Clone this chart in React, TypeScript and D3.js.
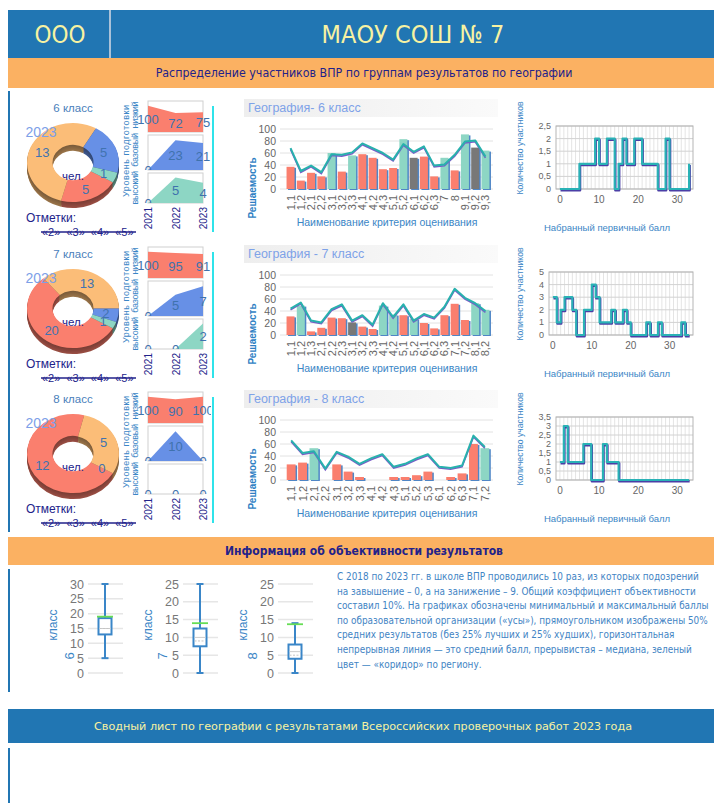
import React from 'react';
import * as d3 from 'd3';

// ---- data ----
const schoolName = 'МАОУ СОШ № 7';
const districtName = 'ООО';
const sectionTitle1 = 'Распределение участников ВПР по группам результатов по географии';
const sectionTitle2 = 'Информация об объективности результатов';
const footerTitle = 'Сводный лист по географии с результатами Всероссийских проверочных работ 2023 года';

const gradeTitles = ['6 класс', '7 класс', '8 класс'];
const gradeNums = ['6', '7', '8'];
const chartTitles = ['География- 6 класс', 'География - 7 класс', 'География - 8 класс'];
const reportYear = '2023';
const markLabels = ['«2»', '«3»', '«4»', '«5»'];
const markCounts = [
  [5, 13, 5, 1],
  [20, 13, 2, 1],
  [12, 5, 0, 0],
];

const years = ['2021', '2022', '2023'];
const levelNames = ['высокий', 'базовый', 'низкий'];
const lowLevel = [[100, 72, 75], [100, 95, 91], [100, 90, 100]];
const baseLevel = [[0, 23, 21], [0, 5, 7], [0, 10, 0]];
const highLevel = [[0, 5, 4], [0, 0, 2], [0, 0, 0]];

const criteria6 = ['1,1', '1,2', '2,1', '2,2', '3,1', '3,2', '3,3', '4,1', '4,2', '4,3', '5,1', '5,2', '6,1', '6,2', '6,3', '7', '8', '9,1', '9,2', '9,3'];
const school6 = [37, 14, 27, 21, 60, 29, 56, 58, 52, 33, 35, 83, 52, 54, 21, 52, 31, 91, 69, 64];
const region6 = [68, 30, 39, 28, 58, 57, 61, 76, 68, 60, 49, 75, 62, 71, 39, 41, 57, 79, 81, 54];
const verdict6 = ['lo', 'lo', 'lo', 'lo', 'hi', 'lo', 'hi', 'lo', 'lo', 'lo', 'lo', 'hi', 'eq', 'lo', 'lo', 'hi', 'lo', 'hi', 'eq', 'hi'];

const criteria7 = ['1,1', '1,2', '1,3', '2,1', '2,2', '2,3', '3,1', '3,2', '3,3', '4,1', '4,2', '5,1', '5,2', '6,1', '6,2', '6,3', '7,1', '7,2', '8,1', '8,2'];
const school7 = [31, 49, 6, 12, 29, 28, 21, 14, 10, 49, 34, 33, 27, 20, 11, 33, 52, 25, 53, 42];
const region7 = [44, 54, 24, 21, 43, 51, 24, 33, 17, 53, 30, 51, 24, 35, 29, 47, 77, 62, 53, 40];
const verdict7 = ['lo', 'hi', 'lo', 'lo', 'lo', 'lo', 'eq', 'lo', 'lo', 'hi', 'hi', 'lo', 'hi', 'lo', 'lo', 'lo', 'lo', 'lo', 'hi', 'hi'];

const criteria8 = ['1,1', '1,2', '2,1', '2,2', '3,1', '3,2', '3,3', '4,1', '4,2', '4,3', '5,1', '5,2', '5,3', '6,1', '6,2', '6,3', '7,1', '7,2'];
const school8 = [26, 29, 53, 0, 26, 14, 5, 0, 0, 5, 5, 8, 14, 0, 5, 11, 60, 53];
const region8 = [66, 45, 48, 19, 47, 39, 27, 36, 43, 22, 27, 36, 43, 22, 20, 24, 74, 55];
const verdict8 = ['lo', 'lo', 'hi', 'lo', 'lo', 'lo', 'lo', 'lo', 'lo', 'lo', 'lo', 'lo', 'lo', 'lo', 'lo', 'lo', 'lo', 'hi'];

// participants per primary score (index = score)
const scoreCounts6 = [0, 0, 0, 0, 0, 1, 1, 1, 1, 2, 1, 1, 2, 2, 0, 1, 2, 1, 1, 2, 2, 1, 1, 1, 1, 0, 0, 2, 0, 0, 0, 0, 0, 1];
const scoreCounts7 = [3, 1, 2, 3, 3, 2, 0, 0, 2, 2, 4, 3, 1, 1, 1, 2, 1, 1, 2, 1, 0, 0, 0, 0, 1, 0, 0, 1, 0, 0, 0, 0, 0, 1, 0, 0];
const scoreCounts8 = [1, 3, 1, 1, 1, 1, 2, 2, 0, 0, 0, 2, 1, 1, 1, 0, 0, 0, 0, 0, 0, 0, 0, 0, 0, 0, 0, 0, 0, 0, 0, 0, 0, 0];
const scoreYMax = [2.5, 5, 3.5];
const scoreYStep = [0.5, 1, 0.5];
const scoreXTicks = [0, 10, 20, 30];

const boxMin = [5, 0, 0];
const boxQ1 = [13, 7.5, 4];
const boxMedian = [15, 9, 5];
const boxMean = [15, 10, 6];
const boxQ3 = [18.5, 12.5, 8];
const boxMax = [30, 25, 14];
const regionMark = [19, 14, 13.7];
const boxAxisMax = [30, 25, 25];

const noteLines = [
  'С 2018 по 2023 гг. в школе ВПР проводились 10 раз, из которых подозрений',
  'на завышение – 0, а на занижение – 9. Общий коэффициент объективности',
  'составил 10%. На графиках обозначены минимальный и максимальный баллы',
  'по образовательной организации («усы»), прямоугольником изображены 50%',
  'средних результатов (без 25% лучших и 25% худших), горизонтальная',
  'непрерывная линия — это средний балл, прерывистая – медиана, зеленый',
  'цвет — «коридор» по региону.',
];

// ---- styles ----
const BLUE = '#2176b3';
const ORANGE = '#fbb162';
const YELLOW = '#f7f2a2';
const NAVY = '#22228a';
const AXIS_BLUE = '#3b86c6';
const SALMON = '#fa7f6e';
const PEACH = '#fbbd78';
const CORN = '#6790e6';
const MINT = '#8dd6c4';
const GREY_BAR = '#787878';
const sliceColors = [SALMON, PEACH, CORN, MINT];
const verdictColor: Record<string, string> = { lo: SALMON, hi: MINT, eq: GREY_BAR };
const SANS = 'Liberation Sans, Arial, sans-serif';
const COND = "'DejaVu Sans Condensed', 'DejaVu Sans', sans-serif";
const rowOff = [0, 146, 291];

const rows = [
  { cats: criteria6, school: school6, region: region6, verdict: verdict6, counts: scoreCounts6 },
  { cats: criteria7, school: school7, region: region7, verdict: verdict7, counts: scoreCounts7 },
  { cats: criteria8, school: school8, region: region8, verdict: verdict8, counts: scoreCounts8 },
];

const fmt = (v: number) => String(v).replace('.', ',');

function Donut({ off, counts }: { off: number; counts: number[] }) {
  const cx = 73, cy = 162.5 + off, sy = 0.86, depth = 6;
  const start = (2 * Math.PI) / 3;
  const pie = d3.pie<number>().sort(null).value((d) => d).startAngle(start).endAngle(start + 2 * Math.PI);
  const slices = pie(counts);
  const arc = d3.arc<d3.PieArcDatum<number>>().innerRadius(20.5).outerRadius(46);
  const seen = new Set<string>();
  const labels = slices.map((s, i) => {
    const [lx, ly] = arc.centroid(s);
    const key = `${Math.round(lx)}_${Math.round(ly)}`;
    if (seen.has(key)) return null;
    seen.add(key);
    return (
      <text key={i} x={cx + lx} y={cy + ly * sy + 5} textAnchor="middle" fontSize={13} fill="#4173b0" fontFamily={SANS}>
        {s.data}
      </text>
    );
  });
  return (
    <g>
      {d3.range(depth, 0, -1).map((k) => (
        <g key={k} transform={`translate(${cx},${cy + k}) scale(1,${sy})`}>
          {slices.map((s, i) => (
            <path key={i} d={arc(s) || ''} fill={d3.color(sliceColors[i])!.darker(2.1 - k * 0.12).toString()} />
          ))}
        </g>
      ))}
      <g transform={`translate(${cx},${cy}) scale(1,${sy})`}>
        {slices.map((s, i) => (
          <path key={i} d={arc(s) || ''} fill={sliceColors[i]} />
        ))}
      </g>
      {labels}
      <text x={cx} y={cy + 17.5} textAnchor="middle" fontSize={11.5} fill={NAVY} fontFamily={SANS}>чел.</text>
    </g>
  );
}

function LevelPanels({ off, row }: { off: number; row: number }) {
  const x = d3.scalePoint<string>().domain(years).range([148, 203]);
  const panels = [
    { top: 101, bottom: 132, vals: lowLevel[row], color: SALMON },
    { top: 135, bottom: 170, vals: baseLevel[row], color: CORN },
    { top: 173, bottom: 203, vals: highLevel[row], color: MINT },
  ];
  return (
    <g fontFamily={SANS}>
      {panels.map((p, pi) => {
        const top = p.top + off, bottom = p.bottom + off;
        const y = d3.scaleLinear().domain([0, (d3.max(p.vals) || 0) * 1.18 || 1]).range([bottom, top]);
        const area = d3.area<number>().x((_, i) => x(years[i])!).y0(bottom).y1((d) => y(d));
        const id = `clip-${row}-${pi}`;
        return (
          <g key={pi}>
            <clipPath id={id}>
              <rect x={136} y={top} width={75} height={bottom - top} />
            </clipPath>
            <rect x={148} y={top} width={55} height={bottom - top} fill="#fff" stroke="#cfcfcf" />
            <path d={area(p.vals) || ''} fill={p.color} />
            <g clipPath={`url(#${id})`}>
              {p.vals.map((v, i) => (
                <text key={i} x={x(years[i])!} y={(v > 0 ? (y(v) + bottom) / 2 : bottom) + 5} textAnchor="middle" fontSize={13} fill="#3f72ad">
                  {v}
                </text>
              ))}
            </g>
          </g>
        );
      })}
      <text transform={`translate(129,${151 + off}) rotate(-90)`} textAnchor="middle" fontSize={9} textLength={92} lengthAdjust="spacing" fill={AXIS_BLUE}>
        Уровень подготовки
      </text>
      <text transform={`translate(137.5,${153 + off}) rotate(-90)`} textAnchor="middle" fontSize={9} textLength={103} lengthAdjust="spacing" fill={AXIS_BLUE} style={{ whiteSpace: 'pre' }}>
        {levelNames.join('  ')}
      </text>
      {years.map((yr) => (
        <text key={yr} transform={`translate(${x(yr)! + 4},${207 + off}) rotate(-90)`} textAnchor="end" fontSize={10} fill={NAVY}>
          {yr}
        </text>
      ))}
      <line x1={213} x2={213} y1={106 + off} y2={232 + off} stroke="#2fe3ea" strokeWidth={2} />
    </g>
  );
}

function CriteriaChart({ off, row }: { off: number; row: number }) {
  const r = rows[row];
  const x = d3.scaleBand<string>().domain(r.cats).range([285, 491]).paddingInner(0.22).paddingOuter(0.15);
  const y = d3.scaleLinear().domain([0, 100]).range([189 + off, 129 + off]);
  const cxOf = (i: number) => x(r.cats[i])! + x.bandwidth() / 2;
  const line = d3.line<number>().x((_, i) => cxOf(i)).y((d) => y(d));
  const regionPath = line(r.region) || '';
  return (
    <g fontFamily={SANS}>
      <defs>
        <linearGradient id={`tband-${row}`} x1="0" x2="1">
          <stop offset="0" stopColor="#eeeeee" />
          <stop offset="1" stopColor="#fafafa" />
        </linearGradient>
      </defs>
      <rect x={244} y={99 + off} width={254} height={18} fill={`url(#tband-${row})`} />
      <text x={248} y={112 + off} fontSize={12.5} fill="#7ea2e8">{chartTitles[row]}</text>
      {y.ticks(5).map((t) => (
        <g key={t}>
          <line x1={280} x2={493} y1={y(t)} y2={y(t)} stroke="#e2e2e2" />
          <text x={276} y={y(t) + 4} textAnchor="end" fontSize={10.5} fill="#666">{t}</text>
        </g>
      ))}
      {r.school.map((v, i) => (
        <g key={i}>
          <rect x={x(r.cats[i])! + 1.5} y={y(v) + 1} width={x.bandwidth()} height={y(0) - y(v)} fill="#4f86c6" />
          <rect x={x(r.cats[i])!} y={y(v)} width={x.bandwidth()} height={y(0) - y(v)} fill={verdictColor[r.verdict[i]]} />
        </g>
      ))}
      <path d={regionPath} transform="translate(0,1.3)" fill="none" stroke="#7a5cc8" strokeWidth={1.6} />
      <path d={regionPath} fill="none" stroke="#28b1ad" strokeWidth={2} strokeLinejoin="round" />
      {r.cats.map((c, i) => (
        <text key={c} transform={`translate(${cxOf(i) + 4},${195 + off}) rotate(-90)`} textAnchor="end" fontSize={11} fill="#666">
          {c}
        </text>
      ))}
      <text x={387} y={226 + off} textAnchor="middle" fontSize={10.5} fill={AXIS_BLUE}>Наименование критерия оценивания</text>
      <text transform={`translate(256,${188 + off}) rotate(-90)`} textAnchor="middle" fontSize={10} fill="#2f7fc4" fontWeight="bold">
        Решаемость
      </text>
    </g>
  );
}

function ScoreChart({ off, row }: { off: number; row: number }) {
  const counts = rows[row].counts;
  const yMax = scoreYMax[row];
  const left = Number.isInteger(yMax) ? 549 : 556;
  const top = 126 + off, bottom = 189 + off;
  const x = d3.scaleLinear().domain([-1, counts.length]).range([left, 693]);
  const y = d3.scaleLinear().domain([0, yMax]).range([bottom, top]);
  const yTicks = d3.range(0, yMax + 1e-9, scoreYStep[row]);
  const vGrid = d3.range(0, counts.length);
  const line = d3.line<number>().x((_, i) => x(i)).y((d) => y(d)).curve(d3.curveStepAfter);
  const path = line(counts) || '';
  return (
    <g fontFamily={SANS}>
      {vGrid.map((g) => (
        <line key={g} x1={x(g)} x2={x(g)} y1={top} y2={bottom} stroke="#e4e4e4" />
      ))}
      {yTicks.map((t) => (
        <g key={t}>
          <line x1={left} x2={693} y1={y(t)} y2={y(t)} stroke="#d2d2d2" />
          <text x={left - 5} y={y(t) + 3} textAnchor="end" fontSize={9} fill="#666">{fmt(t)}</text>
        </g>
      ))}
      <rect x={left} y={top} width={693 - left} height={bottom - top} fill="none" stroke="#b5b5b5" />
      {scoreXTicks.map((t) => (
        <text key={t} x={x(t)} y={bottom + 14} textAnchor="middle" fontSize={10} fill="#666">{t}</text>
      ))}
      <path d={path} transform="translate(0.6,1.2)" fill="none" stroke="#4b3fa6" strokeWidth={2.4} strokeLinejoin="round" />
      <path d={path} fill="none" stroke="#2ab2b6" strokeWidth={2.2} strokeLinejoin="round" />
      <text transform={`translate(523,${148 + off}) rotate(-90)`} textAnchor="middle" fontSize={8.6} fill={AXIS_BLUE}>
        Количество участников
      </text>
      <text x={607} y={231 + off} textAnchor="middle" fontSize={9.5} fill={AXIS_BLUE}>Набранный первичный балл</text>
    </g>
  );
}

function BoxPlot({ i }: { i: number }) {
  const cx = [105, 200, 295][i];
  const numOffset = [-31, -33, -38][i];
  const y = d3.scaleLinear().domain([0, boxAxisMax[i]]).range([673, 584]);
  const ticks = d3.range(0, boxAxisMax[i] + 1, 5);
  const bw = 13;
  return (
    <g fontFamily={SANS}>
      {ticks.map((t) => (
        <g key={t}>
          <line x1={cx - 17} x2={cx + 18} y1={y(t)} y2={y(t)} stroke="#e6e6e6" strokeWidth={1.5} />
          <text x={cx - 21} y={y(t) + 4.5} textAnchor="end" fontSize={12.5} fill="#777">{t}</text>
        </g>
      ))}
      <line x1={cx} x2={cx} y1={y(boxMin[i])} y2={y(boxMax[i])} stroke="#3a86c8" strokeWidth={2} />
      <line x1={cx - 3.5} x2={cx + 3.5} y1={y(boxMin[i])} y2={y(boxMin[i])} stroke="#3a86c8" strokeWidth={2} />
      <line x1={cx - 3.5} x2={cx + 3.5} y1={y(boxMax[i])} y2={y(boxMax[i])} stroke="#3a86c8" strokeWidth={2} />
      <rect x={cx - bw / 2} y={y(boxQ3[i])} width={bw} height={y(boxQ1[i]) - y(boxQ3[i])} fill="#fff" stroke="#3a86c8" strokeWidth={2} />
      <line x1={cx - bw / 2 + 1} x2={cx + bw / 2 - 1} y1={y(boxMean[i])} y2={y(boxMean[i])} stroke="#cccccc" strokeWidth={1} />
      <line x1={cx - bw / 2 + 1} x2={cx + bw / 2 - 1} y1={y(boxMedian[i])} y2={y(boxMedian[i])} stroke="#c4c4c4" strokeWidth={1} strokeDasharray="2,1.5" />
      <line x1={cx - 8} x2={cx + 8} y1={y(regionMark[i])} y2={y(regionMark[i])} stroke="#66dd55" strokeWidth={1.8} />
      <text transform={`translate(${cx - 48},${625}) rotate(-90)`} textAnchor="middle" fontSize={12} fill={AXIS_BLUE}>класс</text>
      <text transform={`translate(${cx + numOffset},${656}) rotate(-90)`} textAnchor="middle" fontSize={13} fill={AXIS_BLUE}>{gradeNums[i]}</text>
    </g>
  );
}

export default function App() {
  return (
    <svg width={714} height={803} style={{ position: 'absolute', left: 0, top: 0, background: '#fff' }}>
      {/* header */}
      <rect x={8} y={10} width={706} height={48} fill={BLUE} />
      <line x1={110} x2={110} y1={10} y2={58} stroke="#d8dde6" strokeWidth={1.5} />
      <text x={60} y={43} textAnchor="middle" fontSize={24} fill={YELLOW} fontFamily={COND}>{districtName}</text>
      <text x={413} y={43} textAnchor="middle" fontSize={25} fill={YELLOW} fontFamily={COND}>{schoolName}</text>
      <rect x={8} y={58} width={706} height={30} fill={ORANGE} />
      <text x={364} y={77} textAnchor="middle" fontSize={12.3} fill={NAVY} fontFamily={COND}>{sectionTitle1}</text>

      <line x1={9} x2={9} y1={91} y2={532} stroke={BLUE} strokeWidth={2} />

      {rowOff.map((off, row) => (
        <g key={row}>
          <text x={73} y={112 + off} textAnchor="middle" fontSize={11.5} fill="#4a80bb" fontFamily={SANS}>{gradeTitles[row]}</text>
          <Donut off={off} counts={markCounts[row]} />
          <text x={41} y={137 + off} textAnchor="middle" fontSize={14} fill="#7d9fe8" fontFamily={SANS}>{reportYear}</text>
          <text x={26} y={222 + off} fontSize={12} fill={NAVY} fontFamily={SANS}>Отметки:</text>
          <text x={42} y={236 + off} fontSize={11} fill={NAVY} fontFamily={SANS} wordSpacing={3}>{markLabels.join(' ')}</text>
          <line x1={41} x2={136} y1={232 + off} y2={232 + off} stroke={NAVY} strokeWidth={1.4} />
          <LevelPanels off={off} row={row} />
          <CriteriaChart off={off} row={row} />
          <ScoreChart off={off} row={row} />
        </g>
      ))}

      {/* objectivity section */}
      <rect x={8} y={537} width={706} height={28} fill={ORANGE} />
      <text x={364} y={555} textAnchor="middle" fontSize={12} fontWeight="bold" fill={NAVY} fontFamily={COND}>{sectionTitle2}</text>
      <line x1={9} x2={9} y1={569} y2={692} stroke={BLUE} strokeWidth={2} />
      {[0, 1, 2].map((i) => (
        <BoxPlot key={i} i={i} />
      ))}
      <g fontFamily={COND} fontSize={9.9} fill="#3f84c4">
        {noteLines.map((l, i) => (
          <text key={i} x={337} y={580 + i * 14.6}>{l}</text>
        ))}
      </g>

      {/* footer */}
      <rect x={8} y={709} width={706} height={34} fill={BLUE} />
      <text x={363} y={730} textAnchor="middle" fontSize={11.2} fill={YELLOW} fontFamily="'DejaVu Sans', sans-serif">{footerTitle}</text>
      <line x1={9} x2={9} y1={748} y2={803} stroke={BLUE} strokeWidth={2} />
    </svg>
  );
}
